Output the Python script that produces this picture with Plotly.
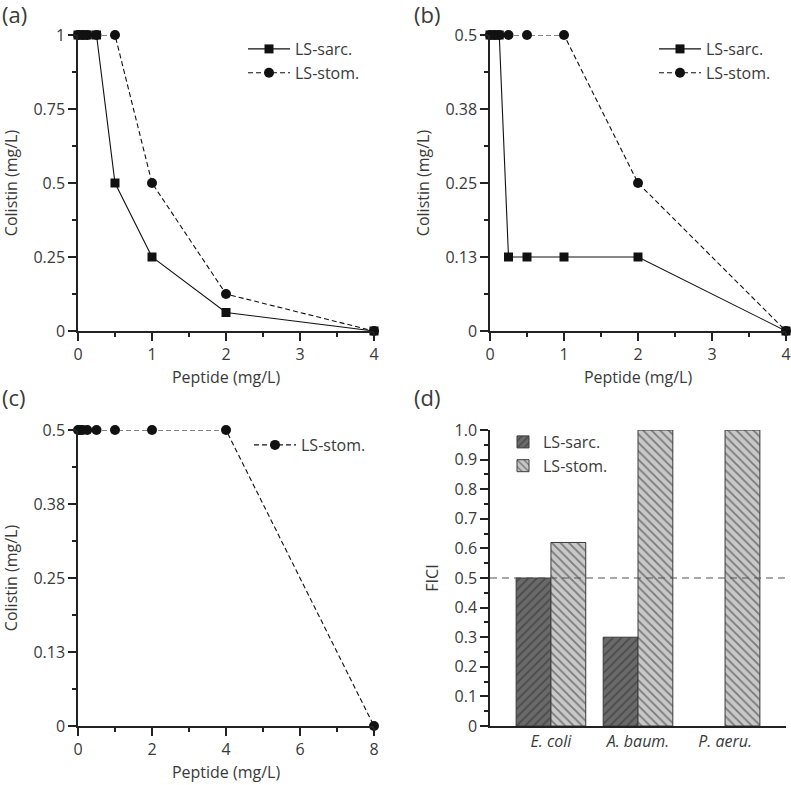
import plotly.graph_objects as go

# ---------------- data ----------------
# Panel (a)
a_sarc_x = [0, 0.0625, 0.125, 0.25, 0.5, 1, 2, 4]
a_sarc_y = [1, 1, 1, 1, 0.5, 0.25, 0.0625, 0]
a_stom_x = [0, 0.0625, 0.125, 0.25, 0.5, 1, 2, 4]
a_stom_y = [1, 1, 1, 1, 1, 0.5, 0.125, 0]

# Panel (b)
b_sarc_x = [0, 0.0625, 0.125, 0.25, 0.5, 1, 2, 4]
b_sarc_y = [0.5, 0.5, 0.5, 0.125, 0.125, 0.125, 0.125, 0]
b_stom_x = [0, 0.0625, 0.125, 0.25, 0.5, 1, 2, 4]
b_stom_y = [0.5, 0.5, 0.5, 0.5, 0.5, 0.5, 0.25, 0]

# Panel (c)
c_stom_x = [0, 0.0625, 0.125, 0.25, 0.5, 1, 2, 4, 8]
c_stom_y = [0.5, 0.5, 0.5, 0.5, 0.5, 0.5, 0.5, 0.5, 0]

# Panel (d)
species = ["E. coli", "A. baum.", "P. aeru."]
species_labels = ["<i>E. coli</i>", "<i>A. baum.</i>", "<i>P. aeru.</i>"]
fici_sarc = [0.5, 0.3, None]
fici_stom = [0.62, 1.0, 1.0]
fici_threshold = 0.5

# tick labels
half_tickvals = [0, 0.125, 0.25, 0.375, 0.5]
half_ticktext = ["0", "0.13", "0.25", "0.38", "0.5"]
fici_tickvals = [0, 0.1, 0.2, 0.3, 0.4, 0.5, 0.6, 0.7, 0.8, 0.9, 1.0]
fici_ticktext = ["0", "0.1", "0.2", "0.3", "0.4", "0.5", "0.6", "0.7", "0.8", "0.9", "1.0"]

# ---------------- styling ----------------
W, H = 791, 785
FONT = "Open Sans"
TXT = "#3a3a3a"
AX = "#222222"
FS = 16

def px_x(p):
    return p / W

def px_y(p):
    return 1 - p / H

dom_left = [px_x(78), px_x(374)]
dom_right = [px_x(490), px_x(786)]
dom_top = [px_y(331), px_y(35)]
dom_bot = [px_y(726), px_y(430)]

fig = go.Figure()

line_solid = dict(color="#111111", width=1.1)
line_dash = dict(color="#111111", width=1.1, dash="5px,3px")
sq = dict(symbol="square", size=9, color="#111111")
ci = dict(symbol="circle", size=10, color="#111111")

# (a)
fig.add_trace(go.Scatter(x=a_sarc_x, y=a_sarc_y, name="LS-sarc.", mode="lines+markers",
                         line=line_solid, marker=sq, xaxis="x", yaxis="y", legend="legend",
                         cliponaxis=False))
fig.add_trace(go.Scatter(x=a_stom_x, y=a_stom_y, name="LS-stom.", mode="lines+markers",
                         line=line_dash, marker=ci, xaxis="x", yaxis="y", legend="legend",
                         cliponaxis=False))
# (b)
fig.add_trace(go.Scatter(x=b_sarc_x, y=b_sarc_y, name="LS-sarc.", mode="lines+markers",
                         line=line_solid, marker=sq, xaxis="x2", yaxis="y2", legend="legend2",
                         cliponaxis=False))
fig.add_trace(go.Scatter(x=b_stom_x, y=b_stom_y, name="LS-stom.", mode="lines+markers",
                         line=line_dash, marker=ci, xaxis="x2", yaxis="y2", legend="legend2",
                         cliponaxis=False))
# (c)
fig.add_trace(go.Scatter(x=c_stom_x, y=c_stom_y, name="LS-stom.", mode="lines+markers",
                         line=line_dash, marker=ci, xaxis="x3", yaxis="y3", legend="legend3",
                         cliponaxis=False))
# (d)
fig.add_trace(go.Bar(x=species, y=fici_sarc, name="LS-sarc.", xaxis="x4", yaxis="y4",
                     legend="legend4",
                     marker=dict(color="#6a6a6a", line=dict(color="#3a3a3a", width=1),
                                 pattern=dict(shape="/", fgcolor="#2a2a2a", bgcolor="#6a6a6a",
                                              size=6, solidity=0.3))))
fig.add_trace(go.Bar(x=species, y=fici_stom, name="LS-stom.", xaxis="x4", yaxis="y4",
                     legend="legend4",
                     marker=dict(color="#c8c8c8", line=dict(color="#3a3a3a", width=1),
                                 pattern=dict(shape="\\", fgcolor="#2a2a2a", bgcolor="#c8c8c8",
                                              size=6, solidity=0.3))))

fig.add_shape(type="line", xref="x4 domain", yref="y4", x0=0, x1=1,
              y0=fici_threshold, y1=fici_threshold,
              line=dict(color="#555555", width=1.2, dash="7px,5px"), layer="above")

axis_common = dict(showline=True, linecolor=AX, linewidth=1.5, ticks="outside",
                   ticklen=8, tickwidth=1.5, tickcolor=AX, showgrid=False, zeroline=False,
                   tickfont=dict(family=FONT, size=FS, color=TXT),
                   title_font=dict(family=FONT, size=FS, color=TXT), automargin=False)
minor_y = lambda d: dict(ticks="outside", ticklen=4, tickwidth=1.5, tickcolor=AX, dtick=d, showgrid=False)

legend_font = dict(family=FONT, size=FS, color=TXT)

fig.update_layout(
    width=W, height=H, margin=dict(l=0, r=0, t=0, b=0),
    paper_bgcolor="white", plot_bgcolor="white",
    font=dict(family=FONT, size=FS, color=TXT),
    barmode="group", bargap=0.2, bargroupgap=0,
    xaxis=dict(axis_common, domain=dom_left, anchor="y", range=[0, 4], dtick=1,
               minor=minor_y(0.5), title=dict(text="Peptide (mg/L)", standoff=8)),
    yaxis=dict(axis_common, domain=dom_top, anchor="x", range=[0, 1], dtick=0.25,
               minor=minor_y(0.125), title=dict(text="Colistin (mg/L)", standoff=12)),
    xaxis2=dict(axis_common, domain=dom_right, anchor="y2", range=[0, 4], dtick=1,
                minor=minor_y(0.5), title=dict(text="Peptide (mg/L)", standoff=8)),
    yaxis2=dict(axis_common, domain=dom_top, anchor="x2", range=[0, 0.5],
                tickmode="array", tickvals=half_tickvals, ticktext=half_ticktext,
                minor=minor_y(0.0625), title=dict(text="Colistin (mg/L)", standoff=12)),
    xaxis3=dict(axis_common, domain=dom_left, anchor="y3", range=[0, 8], dtick=2,
                minor=minor_y(1), title=dict(text="Peptide (mg/L)", standoff=8)),
    yaxis3=dict(axis_common, domain=dom_bot, anchor="x3", range=[0, 0.5],
                tickmode="array", tickvals=half_tickvals, ticktext=half_ticktext,
                minor=minor_y(0.0625), title=dict(text="Colistin (mg/L)", standoff=12)),
    xaxis4=dict(axis_common, domain=dom_right, anchor="y4", range=[-0.7, 2.7],
                tickmode="array", tickvals=species, ticktext=species_labels, ticks=""),
    yaxis4=dict(axis_common, domain=dom_bot, anchor="x4", range=[0, 1],
                tickmode="array", tickvals=fici_tickvals, ticktext=fici_ticktext,
                minor=minor_y(0.05), title=dict(text="FICI", standoff=12)),
    legend=dict(x=px_x(243), y=px_y(32), xanchor="left", yanchor="top", itemwidth=42,
                bgcolor="rgba(0,0,0,0)", font=legend_font),
    legend2=dict(x=px_x(654), y=px_y(32), xanchor="left", yanchor="top", itemwidth=42,
                 bgcolor="rgba(0,0,0,0)", font=legend_font),
    legend3=dict(x=px_x(249), y=px_y(428), xanchor="left", yanchor="top", itemwidth=42,
                 bgcolor="rgba(0,0,0,0)", font=legend_font),
    legend4=dict(x=px_x(503), y=px_y(425), xanchor="left", yanchor="top",
                 bgcolor="rgba(0,0,0,0)", font=legend_font),
    showlegend=True,
)

for txt, xp, yp in [("(a)", 0, -3), ("(b)", 412, -3), ("(c)", 0, 380), ("(d)", 412, 380)]:
    fig.add_annotation(text=txt, xref="paper", yref="paper", x=px_x(xp), y=px_y(yp),
                       xanchor="left", yanchor="top", showarrow=False,
                       font=dict(family=FONT, size=22, color=TXT))

fig.write_html("out.html", config={"displayModeBar": False},
               post_script="document.body.style.margin='0px';")
